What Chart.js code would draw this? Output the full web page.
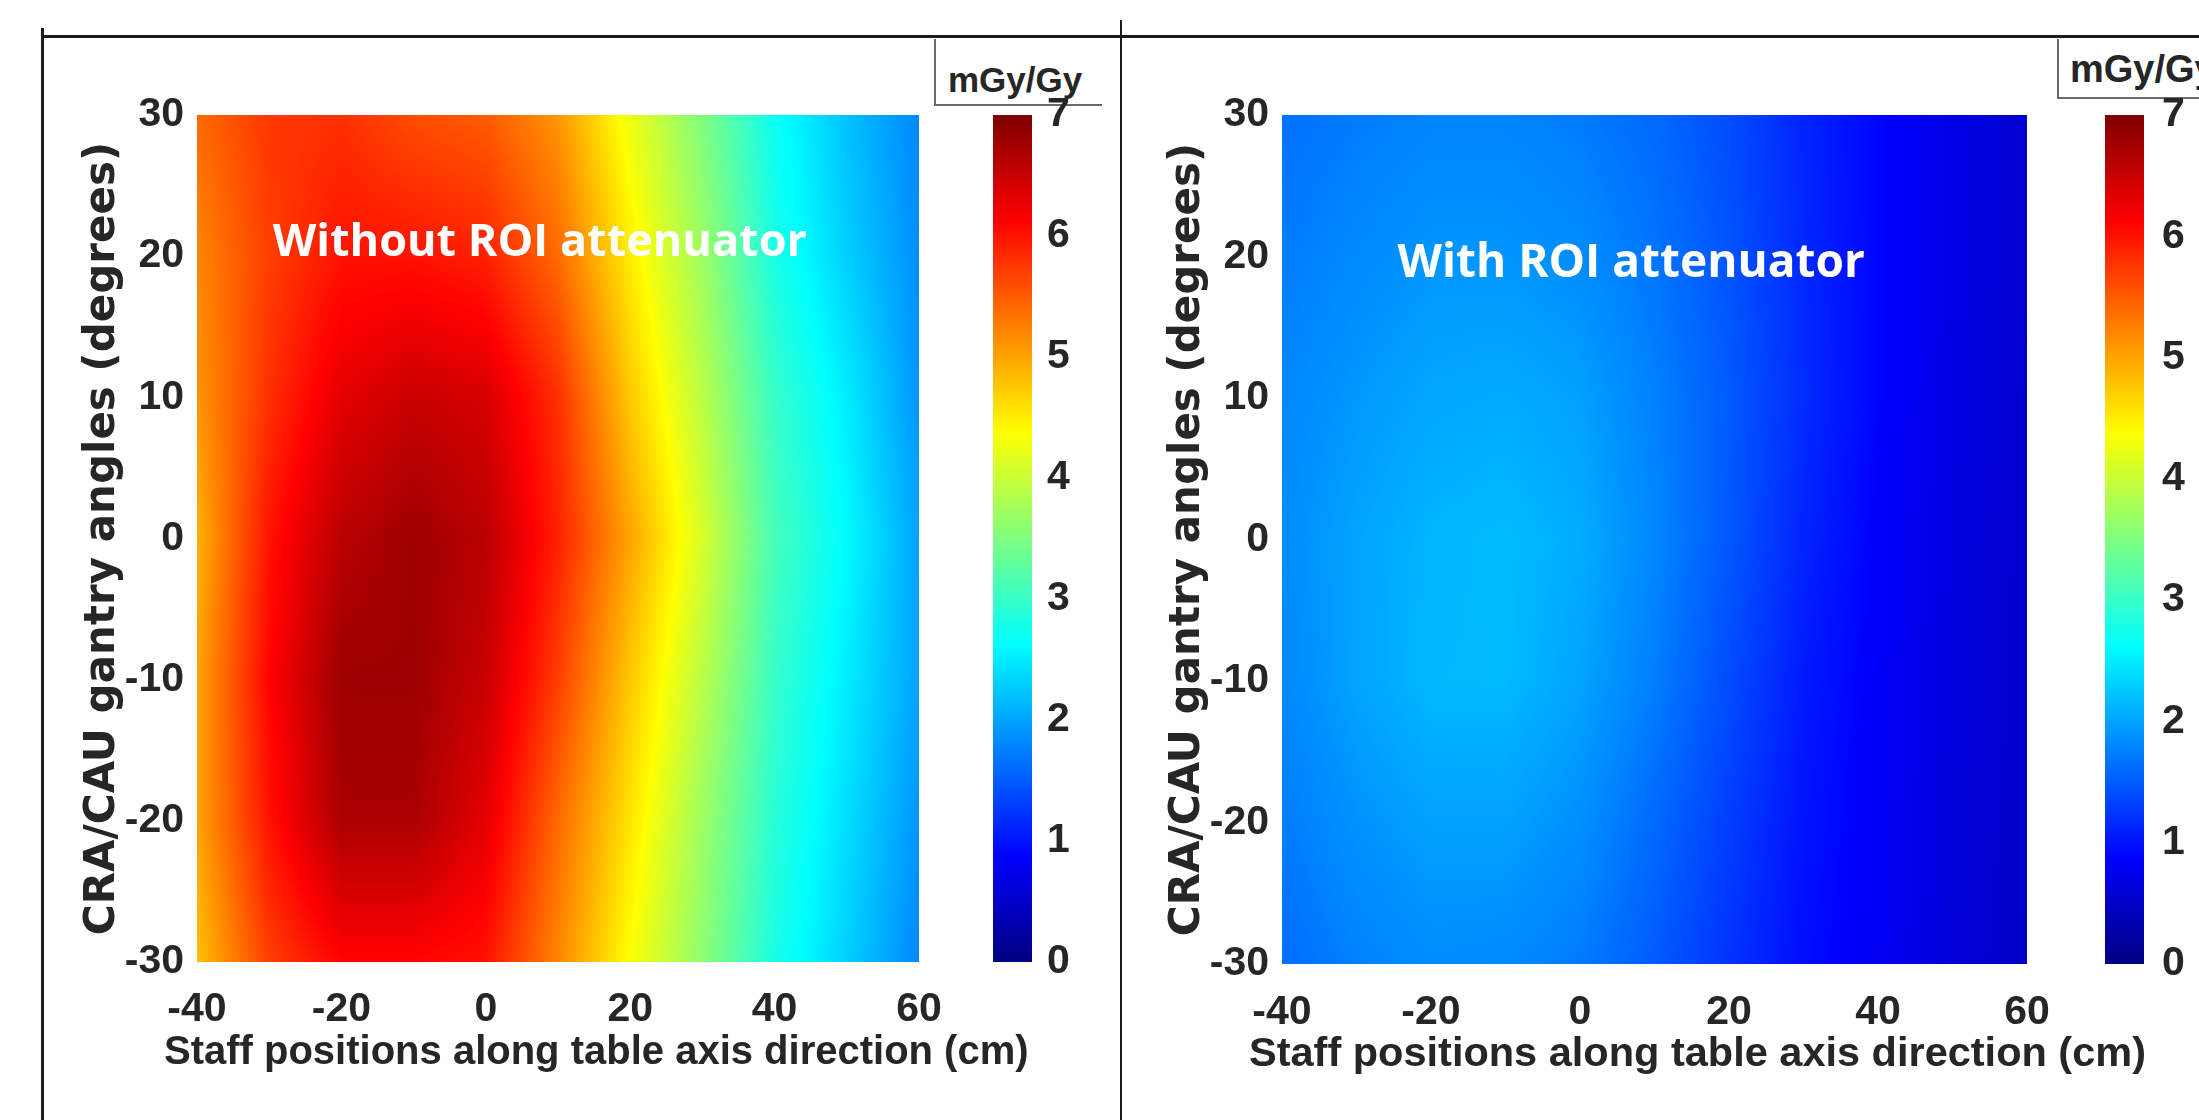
<!DOCTYPE html>
<html>
<head>
<meta charset="utf-8">
<title>Staff dose maps</title>
<script src="https://cdn.jsdelivr.net/npm/chart.js@4.4.1/dist/chart.umd.min.js"></script>
<style>
  html, body { margin: 0; padding: 0; background: #fff; }
  body { width: 2199px; height: 1120px; position: relative; overflow: hidden; }
  canvas { position: absolute; }
  .rule { position: absolute; background: #1c1c1c; }
  .unit {
    position: absolute; box-sizing: border-box; line-height: 1;
    border-left: 2px solid #6a6a6a; border-bottom: 2px solid #6a6a6a;
    font-family: "Liberation Sans", Arial, sans-serif; font-weight: bold; color: #262626;
  }
</style>
</head>
<body>
<div class="rule" style="left:42px; top:35px; width:2157px; height:3px"></div>
<div class="rule" style="left:41px; top:28px; width:3px; height:1092px"></div>
<div class="rule" style="left:1120px; top:20px; width:2px; height:1100px"></div>

<div class="unit" style="left:934px; top:39px; width:168px; height:67px; font-size:35px; padding:23px 0 0 12px">mGy/Gy</div>
<div class="unit" style="left:2057px; top:39px; width:160px; height:60px; font-size:38px; padding:11px 0 0 11px">mGy/Gy</div>

<canvas id="withoutChart" width="1020" height="1080" style="left:44px; top:40px"></canvas>
<canvas id="withoutBar" width="110" height="1080" style="left:993px; top:40px"></canvas>
<canvas id="withChart" width="1060" height="1080" style="left:1124px; top:40px"></canvas>
<canvas id="withBar" width="94" height="1080" style="left:2105px; top:40px"></canvas>

<script>
// staff positions along the table (cm) and CRA/CAU gantry angles (degrees)
const staffPositions = [-40, -30, -20, -10, 0, 10, 20, 30, 40, 50, 60];
const gantryAngles = [30, 20, 10, 0, -10, -20, -30];

// normalised staff dose (mGy/Gy), one row per gantry angle, same order as above
const doseWithout = [
    [5.4, 5.75, 5.8, 5.6, 5.5, 5.1, 4.25, 3.5, 2.7, 2.2, 1.8],
    [5.2, 5.7, 6.0, 6.0, 5.9, 5.4, 4.5, 3.7, 2.8, 2.3, 1.85],
    [5.1, 5.8, 6.3, 6.5, 6.4, 5.8, 4.75, 3.9, 3.0, 2.5, 1.9],
    [4.9, 6.0, 6.6, 6.8, 6.6, 5.9, 5.0, 4.1, 3.1, 2.6, 2.0],
    [5.0, 6.1, 6.8, 6.8, 6.5, 5.7, 4.75, 3.9, 3.0, 2.5, 2.0],
    [5.0, 6.0, 6.7, 6.7, 6.3, 5.4, 4.55, 3.7, 2.9, 2.4, 1.9],
    [4.8, 5.7, 6.1, 6.1, 6.0, 5.2, 4.35, 3.6, 2.8, 2.3, 1.8]
];
const doseWith = [
    [1.65, 1.72, 1.78, 1.78, 1.72, 1.6, 1.4, 1.12, 0.9, 0.7, 0.55],
    [1.72, 1.82, 1.9, 1.9, 1.84, 1.68, 1.45, 1.15, 0.9, 0.7, 0.55],
    [1.8, 1.92, 2.02, 2.05, 1.98, 1.76, 1.5, 1.17, 0.9, 0.68, 0.53],
    [1.84, 2.0, 2.12, 2.16, 2.06, 1.8, 1.48, 1.12, 0.86, 0.66, 0.52],
    [1.8, 2.0, 2.14, 2.15, 2.0, 1.74, 1.4, 1.05, 0.84, 0.64, 0.51],
    [1.72, 1.88, 1.98, 1.98, 1.86, 1.6, 1.3, 1.0, 0.82, 0.62, 0.5],
    [1.62, 1.76, 1.84, 1.82, 1.72, 1.5, 1.22, 0.96, 0.8, 0.6, 0.48]
];

const xTickValues = [-40, -20, 0, 20, 40, 60];
const yTickValues = [-30, -20, -10, 0, 10, 20, 30];
const colorbarTicks = [0, 1, 2, 3, 4, 5, 6, 7];
const doseRange = [0, 7];

const ink = '#262626';
const narrow = '"Liberation Sans Narrow", "Arial Narrow", "Liberation Sans", Arial, sans-serif';
const tickFont = { family: narrow, size: 41, weight: 'bold' };

// matlab jet colormap, t in [0, 1]
function jet(t) {
    t = Math.min(1, Math.max(0, t));
    const c = f => Math.round(255 * Math.min(1, Math.max(0, f)));
    return [c(1.5 - Math.abs(4 * t - 3)), c(1.5 - Math.abs(4 * t - 2)), c(1.5 - Math.abs(4 * t - 1))];
}

function gridPoints(dose) {
    const pts = [];
    gantryAngles.forEach((a, r) => {
        staffPositions.forEach((p, c) => pts.push({ x: p, y: a, v: dose[r][c] }));
    });
    return pts;
}

// paints the dose grid with interpolated shading, like matlab's shading interp
const heatmap = {
    id: 'heatmap',
    beforeDatasetsDraw(chart) {
        const pts = chart.data.datasets[0].data;
        const xs = [...new Set(pts.map(p => p.x))].sort((a, b) => a - b);
        const ys = [...new Set(pts.map(p => p.y))].sort((a, b) => a - b);
        const lookup = new Map(pts.map(p => [p.x + ',' + p.y, p.v]));
        const val = (i, j) => lookup.get(xs[i] + ',' + ys[j]);
        const { ctx, scales: { x, y } } = chart;

        const left = Math.round(x.getPixelForValue(xs[0]));
        const right = Math.round(x.getPixelForValue(xs[xs.length - 1]));
        const top = Math.round(y.getPixelForValue(ys[ys.length - 1]));
        const bottom = Math.round(y.getPixelForValue(ys[0]));
        const w = right - left, h = bottom - top;

        const locate = (arr, v) => {
            let i = 0;
            while (i < arr.length - 2 && v > arr[i + 1]) i++;
            const f = (v - arr[i]) / (arr[i + 1] - arr[i]);
            return [i, Math.min(1, Math.max(0, f))];
        };
        const cols = [], rows = [];
        for (let px = 0; px < w; px++) cols.push(locate(xs, x.getValueForPixel(left + px + 0.5)));
        for (let py = 0; py < h; py++) rows.push(locate(ys, y.getValueForPixel(top + py + 0.5)));

        const off = document.createElement('canvas');
        off.width = w; off.height = h;
        const octx = off.getContext('2d');
        const img = octx.createImageData(w, h);
        const span = doseRange[1] - doseRange[0];
        for (let py = 0; py < h; py++) {
            const [j, fy] = rows[py];
            for (let px = 0; px < w; px++) {
                const [i, fx] = cols[px];
                const v = val(i, j) * (1 - fx) * (1 - fy) + val(i + 1, j) * fx * (1 - fy) +
                          val(i, j + 1) * (1 - fx) * fy + val(i + 1, j + 1) * fx * fy;
                const rgb = jet((v - doseRange[0]) / span);
                const k = (py * w + px) * 4;
                img.data[k] = rgb[0]; img.data[k + 1] = rgb[1]; img.data[k + 2] = rgb[2]; img.data[k + 3] = 255;
            }
        }
        octx.putImageData(img, 0, 0);
        ctx.drawImage(off, left, top);
    }
};

// white label inside the plot, anchored in data units
const caption = {
    id: 'caption',
    afterDatasetsDraw(chart, args, opts) {
        const { ctx, scales: { x, y } } = chart;
        ctx.save();
        ctx.font = opts.font;
        ctx.fillStyle = '#ffffff';
        ctx.textAlign = 'left';
        ctx.textBaseline = 'middle';
        ctx.fillText(opts.text, x.getPixelForValue(opts.x), y.getPixelForValue(opts.y));
        ctx.restore();
    }
};

// x axis title; the built-in one gets squeezed to the plot width
const xTitle = {
    id: 'xTitle',
    afterDraw(chart, args, opts) {
        const { ctx, chartArea, scales: { x } } = chart;
        ctx.save();
        ctx.font = opts.font;
        ctx.fillStyle = ink;
        ctx.textAlign = 'left';
        ctx.textBaseline = 'middle';
        ctx.fillText(opts.text, x.left + opts.dx, chartArea.bottom + opts.dy);
        ctx.restore();
    }
};

function jetGradient(c) {
    const chart = c.chart;
    const y = chart.scales.y;
    if (!y || !chart.chartArea) return '#000080';
    const g = chart.ctx.createLinearGradient(0, y.getPixelForValue(doseRange[0]), 0, y.getPixelForValue(doseRange[1]));
    [0, 0.125, 0.375, 0.625, 0.875, 1].forEach(s => g.addColorStop(s, 'rgb(' + jet(s).join(',') + ')'));
    return g;
}

function doseChart(id, dose, opt) {
    return new Chart(document.getElementById(id), {
        type: 'scatter',
        data: { datasets: [{ data: gridPoints(dose), pointRadius: 0, pointHoverRadius: 0 }] },
        options: {
            responsive: false,
            animation: false,
            events: [],
            layout: { padding: { top: 75, right: opt.padRight, bottom: 0, left: 0 } },
            plugins: {
                legend: { display: false },
                tooltip: { enabled: false },
                caption: opt.caption,
                xTitle: {
                    text: 'Staff positions along table axis direction (cm)',
                    font: 'bold ' + opt.xTitleSize + 'px "Liberation Sans", Arial, sans-serif',
                    dx: -33,
                    dy: 91
                }
            },
            scales: {
                x: {
                    type: 'linear',
                    min: Math.min(...staffPositions),
                    max: Math.max(...staffPositions),
                    grid: { display: false, drawTicks: false },
                    border: { display: false },
                    afterBuildTicks: s => { s.ticks = xTickValues.map(v => ({ value: v })); },
                    afterFit: s => { s.height = opt.xHeight; },
                    ticks: { font: tickFont, color: ink, padding: opt.xPad, maxRotation: 0, autoSkip: false }
                },
                y: {
                    type: 'linear',
                    min: Math.min(...gantryAngles),
                    max: Math.max(...gantryAngles),
                    grid: { display: false, drawTicks: false },
                    border: { display: false },
                    afterBuildTicks: s => { s.ticks = yTickValues.map(v => ({ value: v })); },
                    afterFit: s => { s.width = opt.yWidth; },
                    ticks: { font: tickFont, color: ink, padding: 13, autoSkip: false },
                    title: {
                        display: true,
                        text: 'CRA/CAU gantry angles (degrees)',
                        font: { family: '"DejaVu Sans", Verdana, sans-serif', size: 42, weight: 'bold' },
                        color: ink,
                        padding: { top: opt.yTitlePad, bottom: 0 }
                    }
                }
            }
        },
        plugins: [heatmap, caption, xTitle]
    });
}

function colorbar(id, opt) {
    return new Chart(document.getElementById(id), {
        type: 'bar',
        data: {
            labels: ['mGy/Gy'],
            datasets: [{
                data: [doseRange],
                backgroundColor: jetGradient,
                borderWidth: 0,
                barPercentage: 1,
                categoryPercentage: 1
            }]
        },
        options: {
            responsive: false,
            animation: false,
            events: [],
            layout: { padding: { top: 75, right: 0, bottom: opt.bottom, left: 0 } },
            plugins: { legend: { display: false }, tooltip: { enabled: false } },
            scales: {
                x: { display: false },
                y: {
                    position: 'right',
                    min: doseRange[0],
                    max: doseRange[1],
                    grid: { display: false, drawTicks: false },
                    border: { display: false },
                    afterBuildTicks: s => { s.ticks = colorbarTicks.map(v => ({ value: v })); },
                    afterFit: s => { s.width = opt.axisWidth; },
                    ticks: { font: tickFont, color: ink, padding: opt.pad, autoSkip: false }
                }
            }
        }
    });
}

// canvas is wider than the plot so the x title can run past its right edge
doseChart('withoutChart', doseWithout, {
    padRight: 145, yWidth: 153, xHeight: 158, xPad: 23, yTitlePad: 34, xTitleSize: 40,
    caption: { text: 'Without ROI attenuator', x: -29.5, y: 20.9, font: 'bold 45px "Open Sans", "DejaVu Sans", sans-serif' }
});
colorbar('withoutBar', { bottom: 158, axisWidth: 71, pad: 15 });

doseChart('withChart', doseWith, {
    padRight: 157, yWidth: 158, xHeight: 156, xPad: 24, yTitlePad: 39, xTitleSize: 41.5,
    caption: { text: 'With ROI attenuator', x: -24.5, y: 19.5, font: 'bold 46px "Open Sans", "DejaVu Sans", sans-serif' }
});
colorbar('withBar', { bottom: 156, axisWidth: 55, pad: 18 });
</script>
</body>
</html>
